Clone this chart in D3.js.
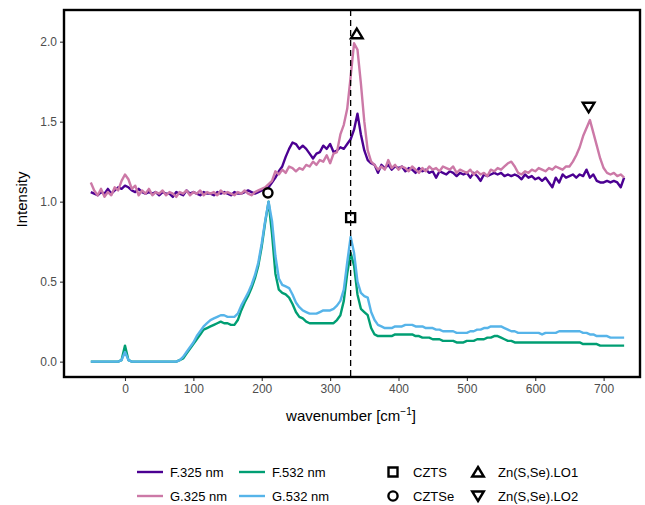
<!DOCTYPE html>
<html><head><meta charset="utf-8">
<script src="https://cdn.jsdelivr.net/npm/d3@7"></script>
<style>body{margin:0;background:#fff;} text{font-family:"Liberation Sans",Arial,sans-serif;}</style>
</head><body><svg id="c" width="645" height="505"></svg>
<script>
const wavenumber = [
-50,-45,-40,-35,-30,-25,-20,-15,-10,-5,
0,5,10,15,20,25,30,35,40,45,
50,55,60,65,70,75,80,85,90,95,
100,105,110,115,120,125,130,135,140,145,
150,155,160,165,170,175,180,185,190,195,
200,205,210,215,220,225,230,235,240,245,
250,255,260,265,270,275,280,285,290,295,
300,305,310,315,320,325,330,335,340,345,
350,355,360,365,370,375,380,385,390,395,
400,405,410,415,420,425,430,435,440,445,
450,455,460,465,470,475,480,485,490,495,
500,505,510,515,520,525,530,535,540,545,
550,555,560,565,570,575,580,585,590,595,
600,605,610,615,620,625,630,635,640,645,
650,655,660,665,670,675,680,685,690,695,
700,705,710,715,720,725,730];

const F325 = [
1.06,1.05,1.04,1.06,1.05,1.08,1.05,1.07,1.09,1.08,
1.10,1.09,1.07,1.06,1.08,1.06,1.05,1.06,1.05,1.06,
1.04,1.06,1.05,1.05,1.03,1.06,1.05,1.04,1.07,1.05,
1.06,1.05,1.04,1.06,1.05,1.05,1.04,1.06,1.05,1.06,
1.05,1.04,1.06,1.05,1.05,1.06,1.07,1.06,1.05,1.06,
1.07,1.08,1.09,1.12,1.15,1.19,1.22,1.28,1.33,1.37,
1.36,1.33,1.35,1.33,1.30,1.27,1.30,1.31,1.35,1.33,
1.36,1.31,1.32,1.34,1.33,1.36,1.39,1.45,1.55,1.42,
1.32,1.26,1.24,1.23,1.18,1.23,1.21,1.23,1.20,1.22,
1.21,1.22,1.19,1.21,1.20,1.18,1.21,1.19,1.20,1.18,
1.19,1.15,1.19,1.18,1.17,1.19,1.18,1.16,1.18,1.17,
1.18,1.15,1.18,1.16,1.13,1.17,1.16,1.17,1.18,1.17,
1.18,1.16,1.17,1.16,1.17,1.16,1.14,1.17,1.15,1.16,
1.14,1.15,1.13,1.15,1.12,1.09,1.15,1.12,1.17,1.15,
1.16,1.17,1.15,1.17,1.16,1.20,1.15,1.17,1.13,1.12,
1.12,1.13,1.12,1.13,1.12,1.09,1.15];

const G325 = [
1.12,1.07,1.04,1.08,1.03,1.06,1.04,1.09,1.07,1.13,
1.17,1.14,1.08,1.10,1.04,1.07,1.05,1.08,1.04,1.06,
1.05,1.07,1.04,1.06,1.05,1.03,1.06,1.05,1.07,1.04,
1.06,1.05,1.07,1.04,1.06,1.05,1.06,1.04,1.07,1.05,
1.06,1.05,1.04,1.06,1.05,1.07,1.05,1.04,1.06,1.07,
1.08,1.09,1.11,1.13,1.19,1.17,1.20,1.18,1.22,1.21,
1.19,1.21,1.20,1.23,1.22,1.25,1.23,1.26,1.25,1.29,
1.24,1.30,1.31,1.42,1.48,1.58,1.78,1.99,1.95,1.74,
1.50,1.32,1.25,1.23,1.20,1.22,1.20,1.26,1.21,1.23,
1.20,1.22,1.21,1.19,1.22,1.20,1.18,1.21,1.19,1.22,
1.20,1.21,1.19,1.22,1.21,1.20,1.22,1.18,1.20,1.19,
1.18,1.20,1.17,1.19,1.17,1.18,1.16,1.20,1.19,1.21,
1.20,1.22,1.24,1.25,1.22,1.18,1.17,1.19,1.18,1.20,
1.19,1.21,1.20,1.19,1.21,1.20,1.22,1.21,1.20,1.22,
1.22,1.25,1.29,1.34,1.41,1.46,1.51,1.43,1.35,1.27,
1.21,1.18,1.17,1.18,1.16,1.17,1.15];

const F532 = [
0.00,0.00,0.00,0.00,0.00,0.00,0.00,0.00,0.00,0.01,
0.10,0.01,0.00,0.00,0.00,0.00,0.00,0.00,0.00,0.00,
0.00,0.00,0.00,0.00,0.00,0.00,0.01,0.02,0.05,0.08,
0.11,0.14,0.17,0.20,0.21,0.22,0.23,0.24,0.25,0.24,
0.24,0.23,0.23,0.26,0.32,0.37,0.41,0.46,0.52,0.60,
0.72,0.87,1.00,0.80,0.55,0.45,0.43,0.42,0.40,0.36,
0.31,0.28,0.27,0.25,0.24,0.24,0.24,0.24,0.24,0.24,
0.24,0.24,0.26,0.29,0.38,0.55,0.68,0.60,0.42,0.33,
0.31,0.29,0.21,0.17,0.16,0.16,0.16,0.16,0.16,0.17,
0.17,0.17,0.17,0.17,0.17,0.16,0.16,0.15,0.15,0.15,
0.14,0.14,0.14,0.13,0.13,0.13,0.13,0.12,0.12,0.12,
0.13,0.13,0.13,0.14,0.14,0.14,0.15,0.15,0.16,0.16,
0.15,0.14,0.13,0.13,0.12,0.12,0.12,0.12,0.12,0.12,
0.12,0.12,0.12,0.12,0.12,0.12,0.12,0.12,0.12,0.12,
0.12,0.12,0.12,0.12,0.11,0.11,0.11,0.11,0.11,0.10,
0.10,0.10,0.10,0.10,0.10,0.10,0.10];

const G532 = [
0.00,0.00,0.00,0.00,0.00,0.00,0.00,0.00,0.00,0.01,
0.06,0.01,0.00,0.00,0.00,0.00,0.00,0.00,0.00,0.00,
0.00,0.00,0.00,0.00,0.00,0.00,0.01,0.03,0.06,0.09,
0.12,0.16,0.19,0.22,0.24,0.26,0.27,0.28,0.29,0.29,
0.28,0.28,0.28,0.30,0.35,0.39,0.43,0.48,0.54,0.62,
0.74,0.88,1.00,0.88,0.66,0.52,0.48,0.47,0.46,0.42,
0.37,0.34,0.32,0.31,0.30,0.30,0.30,0.31,0.32,0.32,
0.32,0.33,0.35,0.38,0.45,0.62,0.78,0.68,0.50,0.43,
0.41,0.40,0.31,0.26,0.23,0.22,0.21,0.21,0.21,0.22,
0.22,0.22,0.23,0.23,0.23,0.22,0.22,0.22,0.21,0.21,
0.21,0.20,0.20,0.19,0.19,0.19,0.19,0.18,0.18,0.18,
0.18,0.19,0.19,0.20,0.20,0.21,0.21,0.22,0.22,0.22,
0.22,0.21,0.20,0.19,0.19,0.18,0.18,0.18,0.18,0.18,
0.18,0.18,0.17,0.18,0.18,0.18,0.18,0.19,0.19,0.19,
0.19,0.19,0.19,0.19,0.18,0.18,0.17,0.17,0.16,0.16,
0.16,0.16,0.15,0.15,0.15,0.15,0.15];

const seriesNames = ["F.325 nm","G.325 nm","F.532 nm","G.532 nm"];
const seriesColors = ["#4B0092","#CC79A7","#009E73","#56B4E9"];
const seriesValues = [F325, G325, F532, G532];

const markerNames = ["CZTS","CZTSe","Zn(S,Se).LO1","Zn(S,Se).LO2"];
const markerX = [330, 209, 339, 678];
const markerY = [0.90, 1.055, 2.05, 1.59];
const markerShapes = ["square","circle","up","down"];

const xTicks = [0,100,200,300,400,500,600,700];
const yTicks = [0.0,0.5,1.0,1.5,2.0];
const refLine = 330;

const svg = d3.select("#c");
const L = 64, R = 640, T = 10, B = 377;
const x = d3.scaleLinear().domain([-89.2, 753.2]).range([L, R]);
const y = d3.scaleLinear().domain([-0.096, 2.198]).range([B, T]);

// axes
const xa = svg.append("g").attr("transform", `translate(0,${B})`)
  .call(d3.axisBottom(x).tickValues(xTicks).tickFormat(d3.format("d")).tickSize(4).tickPadding(3));
const ya = svg.append("g").attr("transform", `translate(${L},0)`)
  .call(d3.axisLeft(y).tickValues(yTicks).tickFormat(d3.format(".1f")).tickSize(4).tickPadding(3));
[xa, ya].forEach(a => {
  a.select(".domain").remove();
  a.selectAll(".tick line").attr("stroke", "#333").attr("stroke-width", 1.1);
  a.selectAll(".tick text").attr("fill", "#4D4D4D").style("font-size", "12px")
    .style("font-family", "'Liberation Sans',Arial,sans-serif");
});

const clip = svg.append("clipPath").attr("id", "pc").append("rect")
  .attr("x", L).attr("y", T).attr("width", R - L).attr("height", B - T);

const plot = svg.append("g").attr("clip-path", "url(#pc)");
const line = d3.line().x((d, i) => x(wavenumber[i])).y(d => y(d));
seriesValues.forEach((vals, k) => {
  plot.append("path").datum(vals).attr("d", line)
    .attr("fill", "none").attr("stroke", seriesColors[k])
    .attr("stroke-width", 2.4).attr("stroke-linejoin", "round");
});

plot.append("line").attr("x1", x(refLine)).attr("x2", x(refLine))
  .attr("y1", T).attr("y2", B).attr("stroke", "#000")
  .attr("stroke-width", 1.3).attr("stroke-dasharray", "6,4");

function shapePath(s, cx, cy) {
  if (s === "square") return `M${cx-4.5},${cy-4.5}h9v9h-9Z`;
  if (s === "up") return `M${cx},${cy-5}L${cx+5.8},${cy+4.5}L${cx-5.8},${cy+4.5}Z`;
  if (s === "down") return `M${cx},${cy+5}L${cx+5.8},${cy-4.5}L${cx-5.8},${cy-4.5}Z`;
  return null;
}
function drawMarker(g, s, cx, cy) {
  if (s === "circle") {
    g.append("circle").attr("cx", cx).attr("cy", cy).attr("r", 4.6)
      .attr("fill", "none").attr("stroke", "#000").attr("stroke-width", 2.4);
  } else {
    g.append("path").attr("d", shapePath(s, cx, cy))
      .attr("fill", "none").attr("stroke", "#000").attr("stroke-width", 2.4)
      .attr("stroke-linejoin", "miter");
  }
}
markerNames.forEach((n, i) => drawMarker(plot, markerShapes[i], x(markerX[i]), y(markerY[i])));

// panel border
svg.append("rect").attr("x", L).attr("y", T).attr("width", R - L).attr("height", B - T)
  .attr("fill", "none").attr("stroke", "#000").attr("stroke-width", 2.4);

// axis titles
const xt = svg.append("text").attr("x", (L + R) / 2 - 1).attr("y", 421)
  .attr("text-anchor", "middle").style("font-size", "15px").attr("fill", "#000");
xt.append("tspan").text("wavenumber [cm");
xt.append("tspan").attr("dy", -6).style("font-size", "10px").text("\u22121");
xt.append("tspan").attr("dy", 6).text("]");

svg.append("text").attr("transform", `translate(27,${(T + B) / 2 + 6}) rotate(-90)`)
  .attr("text-anchor", "middle").style("font-size", "15px").attr("fill", "#000").text("Intensity");

// legend
const legLines = [[0, 137, 472], [2, 239, 472], [1, 137, 496], [3, 239, 496]];
legLines.forEach(([k, lx, ly]) => {
  svg.append("line").attr("x1", lx).attr("x2", lx + 26).attr("y1", ly).attr("y2", ly)
    .attr("stroke", seriesColors[k]).attr("stroke-width", 2.4);
  svg.append("text").attr("x", lx + 33).attr("y", ly + 4.5).style("font-size", "13px")
    .attr("fill", "#000").text(seriesNames[k]);
});
const legMarks = [[0, 393, 472], [2, 478, 472], [1, 393, 496], [3, 478, 496]];
legMarks.forEach(([k, mx, my]) => {
  drawMarker(svg, markerShapes[k], mx, my);
  svg.append("text").attr("x", mx + 20).attr("y", my + 4.5).style("font-size", "13px")
    .attr("fill", "#000").text(markerNames[k]);
});
</script></body></html>
